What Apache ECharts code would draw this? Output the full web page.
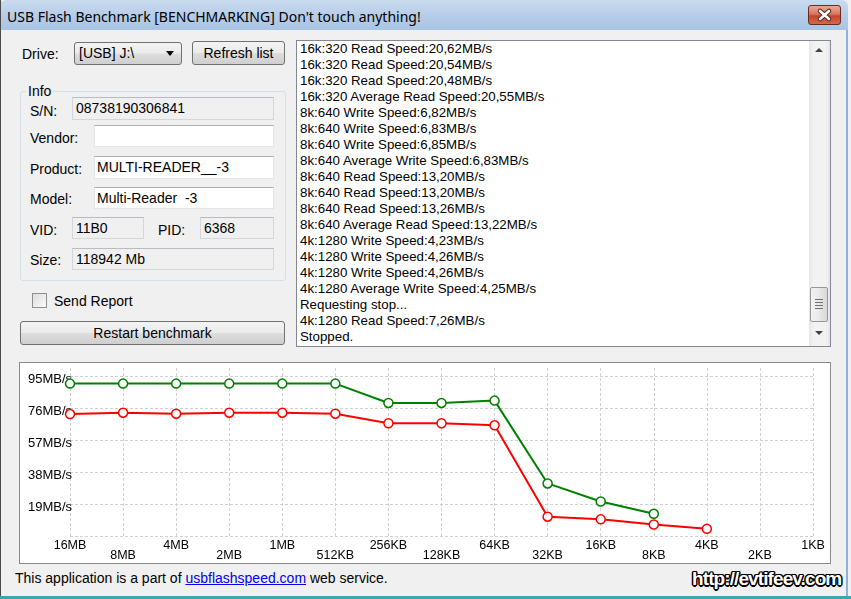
<!DOCTYPE html>
<html><head><meta charset="utf-8">
<script src="https://cdn.jsdelivr.net/npm/echarts@6/dist/echarts.min.js"></script>
<style>
html,body{margin:0;padding:0;width:851px;height:599px;overflow:hidden;}
body{position:relative;background:#f0f0f0;font-family:"Liberation Sans",Arial,sans-serif;font-size:14px;color:#000;}
.a{position:absolute;white-space:nowrap;}
.lbl{line-height:16px;height:16px;}
#frameL{left:0;top:0;width:1px;height:599px;background:#4a4a4a;}
#frameR{left:846px;top:30px;width:2px;height:569px;background:#8fb0d8;}
#frameB{left:0;top:596px;width:851px;height:3px;background:#3ea3b3;}
#titlebar{left:0;top:0;width:848px;height:30px;background:linear-gradient(#c9dbef,#b5cce8 55%,#a9c4e4);border-radius:6px 6px 0 0;}
#title{left:7px;top:8px;font-family:"Noto Sans","Open Sans",sans-serif;font-size:14px;line-height:18px;}
#close{left:808px;top:5px;width:33px;height:20px;border:1px solid #6a2a1c;border-radius:3px;background:linear-gradient(#eaa99a,#d77560 45%,#c6452b 55%,#d4694f);box-sizing:border-box;}
.fld{box-sizing:border-box;border:1px solid #d3d7dc;border-top-color:#b8bcc2;background:#f0f0f0;padding-left:3px;}
.txt{box-sizing:border-box;border:1px solid #e0e5ea;border-top-color:#abadb3;background:#fff;padding-left:2px;}
.btn{box-sizing:border-box;border:1px solid #707070;border-radius:3px;background:linear-gradient(#f3f3f3,#ebebeb 48%,#dddddd 52%,#cfcfcf);text-align:center;}
#log{left:296px;top:40px;width:535px;height:307px;box-sizing:border-box;border:1px solid #828790;background:#fff;}
#loglines{left:300px;top:41px;line-height:16px;font-size:13.3px;}
#sb{left:809px;top:41px;width:21px;height:305px;background:linear-gradient(90deg,#e6e6e6,#f2f2f2 20%,#f2f2f2 80%,#e6e6e6);}
#thumb{left:810px;top:287px;width:18px;height:35px;box-sizing:border-box;border:1px solid #979797;border-radius:2px;background:linear-gradient(90deg,#f3f3f3,#e8e8e8 50%,#d8d8d8);}
.grip{left:815px;width:8px;height:1px;background:#6f6f6f;}
.tri{width:0;height:0;border-left:4px solid transparent;border-right:4px solid transparent;}
#chartWrap{left:19px;top:362px;width:812px;height:202px;box-sizing:border-box;border:1px solid #8a8a8a;background:#fff;}
#chart{position:absolute;left:0;top:0;width:810px;height:200px;}
#footer{left:15px;top:570px;line-height:16px;font-size:14px;}
#footer a{color:#0000ee;text-decoration:underline;}
#wm{left:692px;top:568px;font-size:19px;font-weight:bold;color:#fff;line-height:22px;letter-spacing:-0.9px;
 text-shadow:-1.5px 0 #000,1.5px 0 #000,0 -1.5px #000,0 1.5px #000,-1px -1px #000,1px 1px #000,-1px 1px #000,1px -1px #000;}
</style></head>
<body>
<div class="a" id="titlebar"></div>
<div class="a" id="title">USB Flash Benchmark [BENCHMARKING] Don't touch anything!</div>
<div class="a" id="close"><svg width="31" height="18" style="position:absolute;left:0;top:0"><path d="M11 5 L20 13 M20 5 L11 13" stroke="#5a2418" stroke-width="4.5" stroke-linecap="round"/><path d="M11 5 L20 13 M20 5 L11 13" stroke="#fff" stroke-width="2.6" stroke-linecap="round"/></svg></div>
<div class="a" id="frameL"></div><div class="a" id="frameR"></div><div class="a" id="frameB"></div>

<div class="a lbl" style="left:22px;top:46px">Drive:</div>
<div class="a btn" style="left:74px;top:42px;width:108px;height:23px;text-align:left;padding-left:4px;line-height:21px">[USB] J:\</div>
<div class="a tri" style="left:166px;top:51px;border-top:5px solid #000"></div>
<div class="a btn" style="left:192px;top:41px;width:93px;height:24px;line-height:22px">Refresh list</div>

<div class="a" style="left:20px;top:91px;width:266px;height:190px;box-sizing:border-box;border:1px solid #d5dfe5;border-radius:3px"></div>
<div class="a lbl" style="left:26px;top:83px;background:#f0f0f0;padding:0 2px">Info</div>

<div class="a lbl" style="left:30px;top:103px">S/N:</div>
<div class="a fld" style="left:72px;top:97px;width:202px;height:23px;line-height:21px">08738190306841</div>
<div class="a lbl" style="left:30px;top:130px">Vendor:</div>
<div class="a txt" style="left:94px;top:125px;width:180px;height:22px;line-height:20px"></div>
<div class="a lbl" style="left:30px;top:161px">Product:</div>
<div class="a txt" style="left:94px;top:156px;width:180px;height:23px;line-height:21px">MULTI-READER__-3</div>
<div class="a lbl" style="left:30px;top:191px">Model:</div>
<div class="a txt" style="left:94px;top:187px;width:180px;height:22px;line-height:20px">Multi-Reader&nbsp; -3</div>
<div class="a lbl" style="left:30px;top:222px">VID:</div>
<div class="a fld" style="left:72px;top:217px;width:72px;height:22px;line-height:20px">11B0</div>
<div class="a lbl" style="left:158px;top:222px">PID:</div>
<div class="a fld" style="left:200px;top:217px;width:74px;height:22px;line-height:20px">6368</div>
<div class="a lbl" style="left:30px;top:252px">Size:</div>
<div class="a fld" style="left:72px;top:248px;width:202px;height:22px;line-height:20px">118942 Mb</div>

<div class="a" style="left:32px;top:293px;width:15px;height:15px;box-sizing:border-box;border:1px solid #8e8f8f;background:linear-gradient(135deg,#dcdcdc,#fbfbfb)"></div>
<div class="a lbl" style="left:54px;top:293px">Send Report</div>
<div class="a btn" style="left:20px;top:321px;width:265px;height:24px;line-height:22px">Restart benchmark</div>

<div class="a" id="log"></div>
<div class="a" id="loglines"></div>
<div class="a" id="sb"></div>
<div class="a tri" style="left:815px;top:48px;border-bottom:4px solid #404040"></div>
<div class="a" id="thumb"></div>
<div class="a grip" style="top:299px"></div><div class="a grip" style="top:302px"></div><div class="a grip" style="top:305px"></div><div class="a grip" style="top:308px"></div>
<div class="a tri" style="left:815px;top:331px;border-top:4px solid #404040"></div>

<div class="a" id="chartWrap"><div id="chart"></div></div>

<div class="a" id="footer">This application is a part of <a>usbflashspeed.com</a> web service.</div>
<div class="a" id="wm">http://evtifeev.com</div>

<script>
// ---- data ----
const logLines = [
  "16k:320 Read Speed:20,62MB/s",
  "16k:320 Read Speed:20,54MB/s",
  "16k:320 Read Speed:20,48MB/s",
  "16k:320 Average Read Speed:20,55MB/s",
  "8k:640 Write Speed:6,82MB/s",
  "8k:640 Write Speed:6,83MB/s",
  "8k:640 Write Speed:6,85MB/s",
  "8k:640 Average Write Speed:6,83MB/s",
  "8k:640 Read Speed:13,20MB/s",
  "8k:640 Read Speed:13,20MB/s",
  "8k:640 Read Speed:13,26MB/s",
  "8k:640 Average Read Speed:13,22MB/s",
  "4k:1280 Write Speed:4,23MB/s",
  "4k:1280 Write Speed:4,26MB/s",
  "4k:1280 Write Speed:4,26MB/s",
  "4k:1280 Average Write Speed:4,25MB/s",
  "Requesting stop...",
  "4k:1280 Read Speed:7,26MB/s",
  "Stopped."
];
const categories = ['16MB','8MB','4MB','2MB','1MB','512KB','256KB','128KB','64KB','32KB','16KB','8KB','4KB','2KB','1KB'];
const readSpeed  = [90.7, 90.7, 90.7, 90.7, 90.7, 90.7, 79.2, 79.2, 80.6, 31.3, 20.55, 13.22];
const writeSpeed = [72.6, 73.4, 72.8, 73.4, 73.4, 72.8, 67.1, 67.1, 65.9, 11.5, 9.9, 6.83, 4.25];
const yTickStep = 19;
const yMax = 100;
const yUnit = 'MB/s';

document.getElementById('loglines').innerHTML = logLines.map(s => '<div>' + s.replace(/&/g,'&amp;').replace(/</g,'&lt;') + '</div>').join('');

const chart = echarts.init(document.getElementById('chart'), null, {renderer: 'canvas'});
const dashed = {color: '#d0d0d0', width: 1, type: [3, 2]};
chart.setOption({
  animation: false,
  backgroundColor: '#fff',
  grid: {left: 50, right: 17, top: 5, bottom: 27},
  xAxis: {
    type: 'category',
    data: categories,
    boundaryGap: false,
    axisLine: {show: false},
    axisTick: {show: false},
    splitLine: {show: true, lineStyle: dashed},
    axisLabel: {
      interval: 0,
      margin: 5,
      color: '#000',
      fontFamily: 'Liberation Sans',
      fontSize: 12.5,
      lineHeight: 10,
      formatter: (v, i) => (i % 2 ? '\n' + v : v)
    }
  },
  yAxis: {
    type: 'value',
    min: 0,
    max: yMax,
    interval: yTickStep,
    axisLine: {show: false},
    axisTick: {show: false},
    splitLine: {show: true, lineStyle: dashed, showMaxLine: false},
    axisLabel: {
      showMinLabel: false,
      showMaxLabel: false,
      align: 'left',
      margin: 42,
      lineHeight: 6,
      color: '#000',
      fontFamily: 'Liberation Sans',
      fontSize: 13,
      formatter: v => (v === 0 || v === yMax) ? '' : '\n' + v + yUnit
    }
  },
  series: [
    {
      name: 'Write', type: 'line', data: writeSpeed,
      symbol: 'circle', symbolSize: 9, showAllSymbol: true,
      lineStyle: {color: '#ff0000', width: 2},
      itemStyle: {color: '#fff', borderColor: '#ff0000', borderWidth: 1.5}
    },
    {
      name: 'Read', type: 'line', data: readSpeed,
      symbol: 'circle', symbolSize: 9, showAllSymbol: true,
      lineStyle: {color: '#008000', width: 2},
      itemStyle: {color: '#fff', borderColor: '#008000', borderWidth: 1.5}
    }
  ]
});
</script>
</body></html>
